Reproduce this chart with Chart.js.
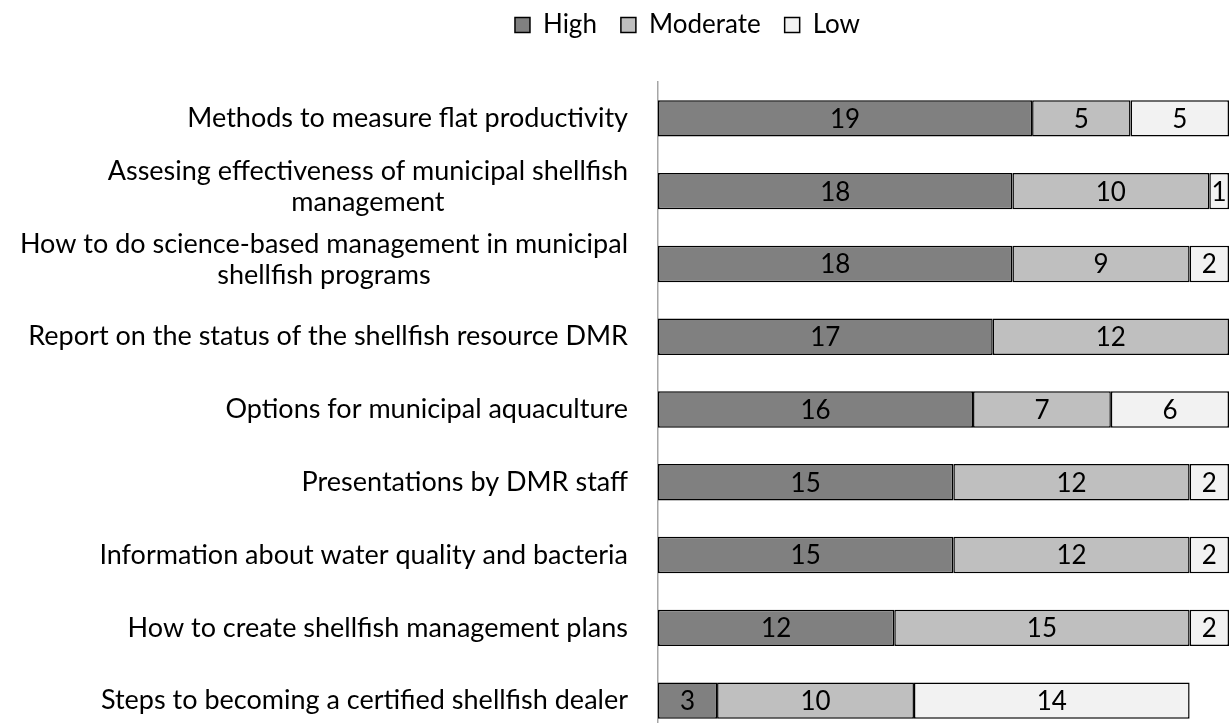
<!DOCTYPE html>
<html>
<head>
<meta charset="utf-8">
<script src="https://cdn.jsdelivr.net/npm/chart.js@4/dist/chart.umd.min.js"></script>
<style>
html,body{margin:0;padding:0;background:#fff;overflow:hidden;}
#wrap{width:1231px;height:738px;position:relative;}
</style>
</head>
<body>
<div id="wrap"><canvas id="c" width="1231" height="738"></canvas></div>
<script>
const categories = [
  ["Methods to measure flat productivity"],
  ["Assesing effectiveness of municipal shellfish", "management"],
  ["How to do science-based management in municipal", "shellfish programs"],
  ["Report on the status of the shellfish resource DMR"],
  ["Options for municipal aquaculture"],
  ["Presentations by DMR staff"],
  ["Information about water quality and bacteria"],
  ["How to create shellfish management plans"],
  ["Steps to becoming a certified shellfish dealer"]
];
const seriesNames = ["High", "Moderate", "Low"];
const highValues = [19, 18, 18, 17, 16, 15, 15, 12, 3];
const moderateValues = [5, 10, 9, 12, 7, 12, 12, 15, 10];
const lowValues = [5, 1, 2, 0, 6, 2, 2, 2, 14];
const xMax = 29;

const FONT = "Lato, sans-serif";
const FS_LABEL = 27;
const FS_VALUE = 26;
const FS_LEGEND = 26;

const valueLabels = {
  id: 'valueLabels',
  afterDatasetsDraw(chart) {
    const ctx = chart.ctx;
    ctx.save();
    ctx.font = FS_VALUE + "px " + FONT;
    ctx.fillStyle = '#000';
    ctx.textAlign = 'center';
    ctx.textBaseline = 'middle';
    chart.data.datasets.forEach((ds, di) => {
      const meta = chart.getDatasetMeta(di);
      meta.data.forEach((bar, i) => {
        const v = ds.data[i];
        if (!v) return;
        const x = (bar.x + bar.base) / 2;
        ctx.fillText(String(v), x, bar.y + 1);
      });
    });
    ctx.restore();
  }
};

const catLabels = {
  id: 'catLabels',
  afterDraw(chart) {
    const ctx = chart.ctx;
    const y = chart.scales.y;
    ctx.save();
    ctx.font = FS_LABEL + "px " + FONT;
    ctx.fillStyle = '#000';
    ctx.textBaseline = 'middle';
    ctx.textAlign = 'center';
    const right = y.right - 30;
    const lh = 31;
    categories.forEach((lines, i) => {
      const cy = y.getPixelForValue(i);
      const w = Math.max(...lines.map(l => ctx.measureText(l).width));
      const cx = right - w / 2;
      const top = cy - (lines.length - 1) * lh / 2 - (lines.length > 1 ? 4 : 0);
      lines.forEach((l, k) => ctx.fillText(l, cx, top + k * lh));
    });
    ctx.restore();
  }
};

const legendSpace = {
  id: 'legendSpace',
  beforeInit(chart) {
    const orig = chart.legend.fit;
    chart.legend.fit = function () {
      orig.bind(chart.legend)();
      this.height = 94;
    };
  },
  beforeDraw(chart) {
    const lg = chart.legend;
    lg.left = 146;
    lg.width = lg.right - lg.left;
  }
};

new Chart(document.getElementById('c'), {
  type: 'bar',
  data: {
    labels: categories.map(c => c.join(' ')),
    datasets: [
      { label: seriesNames[0], data: highValues, backgroundColor: '#808080', borderColor: '#000', borderWidth: 1.5, borderSkipped: false },
      { label: seriesNames[1], data: moderateValues, backgroundColor: '#bfbfbf', borderColor: '#000', borderWidth: 1.5, borderSkipped: false },
      { label: seriesNames[2], data: lowValues, backgroundColor: '#f2f2f2', borderColor: '#000', borderWidth: 1.5, borderSkipped: false }
    ]
  },
  options: {
    indexAxis: 'y',
    responsive: false,
    animation: false,
    layout: { padding: { top: -12, right: 2, bottom: 1, left: 0 } },
    datasets: { bar: { categoryPercentage: 1, barPercentage: 0.5 } },
    scales: {
      x: { stacked: true, display: false, min: 0, max: xMax },
      y: {
        stacked: true,
        ticks: { display: false },
        grid: { display: false },
        border: { display: true, color: '#a6a6a6', width: 1.5 },
        afterFit(scale) { scale.width = 658; }
      }
    },
    plugins: {
      legend: {
        position: 'top',
        align: 'center',
        labels: {
          font: { family: FONT, size: FS_LEGEND },
          color: '#000',
          boxWidth: 15,
          boxHeight: 15,
          padding: 24,
          generateLabels(chart) {
            return chart.data.datasets.map((ds, i) => ({
              text: ds.label,
              fillStyle: ds.backgroundColor,
              strokeStyle: '#000',
              lineWidth: 1.5,
              datasetIndex: i,
              hidden: false
            }));
          }
        }
      },
      tooltip: { enabled: false }
    }
  },
  plugins: [valueLabels, catLabels, legendSpace]
});
</script>
</body>
</html>
